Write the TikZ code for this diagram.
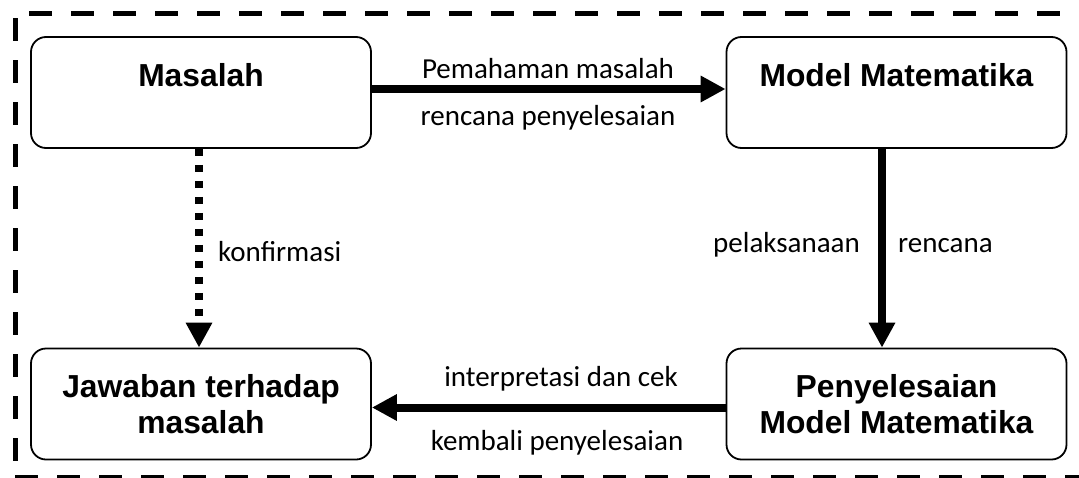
\documentclass[tikz,border=0pt]{standalone}
\usepackage{fontspec}
\setmainfont{Carlito}
\newfontfamily\arialfont{Liberation Sans}
\usetikzlibrary{arrows.meta}
\tikzset{
  box/.style={draw, line width=1.8pt, rounded corners=15pt, minimum width=340pt, minimum height=111pt,
    align=center, inner sep=0pt, font=\arialfont\bfseries\fontsize{31.8}{36}\selectfont},
  lbl/.style={font=\fontsize{29}{34}\selectfont, inner sep=0pt},
  arr/.style={line width=8pt, -{Triangle[length=25pt,width=25pt]}},
  dotarr/.style={line width=8pt, dash pattern=on 7pt off 9pt, -{Triangle[length=25pt,width=25pt]}},
  border/.style={line width=5pt, dash pattern=on 23pt off 19pt}
}
\begin{document}
\begin{tikzpicture}[x=1pt,y=-1pt]
\useasboundingbox (0,0) rectangle (1079,477);
% dashed frame
\coordinate (fl1) at (15,18);
\coordinate (fl2) at (15,478);
\coordinate (ft1) at (29,13);
\coordinate (ft2) at (1090,13);
\coordinate (fb1) at (15,477);
\coordinate (fb2) at (1090,477);
\draw[border] (fl1) -- (fl2);
\draw[border] (ft1) -- (ft2);
\draw[border] (fb1) -- (fb2);
% boxes
\node[box] (mas) at (201,92.5) {Masalah\\\mbox{}};
\node[box] (mod) at (896.5,92.5) {Model Matematika\\\mbox{}};
\node[box] (jaw) at (201,404) {Jawaban terhadap\\masalah};
\node[box] (pen) at (896.5,404) {Penyelesaian\\Model Matematika};
% connectors
\draw[arr] ([yshift=3.5pt]mas.east) -- ([yshift=3.5pt]mod.west);
\draw[arr] ([xshift=-14.5pt]mod.south) -- ([xshift=-14.5pt]pen.north);
\draw[arr] ([yshift=-3.5pt]pen.west) -- ([yshift=-3.5pt]jaw.east);
\draw[dotarr] ([xshift=-2pt]mas.south) -- ([xshift=-2pt]jaw.north);
% labels
\node[lbl, anchor=base] (l1) at (548,78) {Pemahaman masalah};
\node[lbl, anchor=base] (l2) at (548,125) {rencana penyelesaian};
\node[lbl, anchor=base west] (l3) at (218,261) {konfirmasi};
\node[lbl, anchor=base east] (l4) at (860,252) {pelaksanaan};
\node[lbl, anchor=base west] (l5) at (898,252) {rencana};
\node[lbl, anchor=base] (l6) at (561,386) {interpretasi dan cek};
\node[lbl, anchor=base] (l7) at (557,450) {kembali penyelesaian};
\end{tikzpicture}
\end{document}
